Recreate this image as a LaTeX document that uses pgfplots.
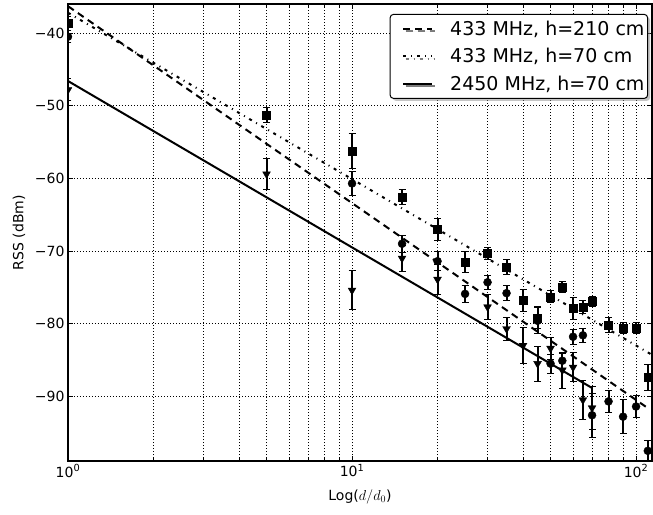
\documentclass[border=0pt]{standalone}
\usepackage{fontspec}
\setmainfont{DejaVu Sans}
\usepackage{pgfplots}
\pgfplotsset{compat=1.18}
\usetikzlibrary{shadows}

\begin{document}
\begin{tikzpicture}
\begin{axis}[
  scale only axis, width=584pt, height=457pt,
  xmode=log, xmin=1, xmax=113.8, ymin=-98.9, ymax=-36,
  xtick={1,10,100},
  xticklabels={10\textsuperscript{0},10\textsuperscript{1},10\textsuperscript{2}},
  ytick={-90,-80,-70,-60,-50,-40},
  yticklabels={−90,−80,−70,−60,−50,−40},
  tick label style={font=\fontsize{14}{16}\selectfont},
  xmajorgrids, xminorgrids, ymajorgrids,
  grid style={black, line width=0.6pt, dash pattern=on 1pt off 2pt},
  axis line style={line width=1.2pt},
  tick style={black, line width=0.8pt},
  major tick length=5pt, minor tick length=3pt, tick align=inside,
  minor y tick num=0,
  clip marker paths=true,
  xlabel={Log($d/d_0$)}, ylabel={RSS (dBm)},
  every axis x label/.style={at={(rel axis cs:0.5,0)}, yshift=-36pt, anchor=center, font=\fontsize{14}{16}\selectfont},
  every axis y label/.style={at={(rel axis cs:0,0.5)}, xshift=-49pt, rotate=90, anchor=center, font=\fontsize{14}{16}\selectfont},
  legend style={at={(1,1)}, anchor=north east, xshift=-4pt, yshift=-10pt,
    font=\fontsize{19}{22}\selectfont, draw=black, line width=1pt,
    rounded corners=3pt, fill=white,
    drop shadow={shadow xshift=2.5pt, shadow yshift=-2.5pt, fill=black!45},
    inner xsep=1pt, inner ysep=4.5pt, row sep=7.5pt},
  legend cell align=left,
  legend image code/.code={\path (0pt,0pt) (55pt,0pt); \draw[#1] (11pt,0pt) -- (40pt,0pt);},
]
% squares
\addplot[forget plot, only marks, black, line width=2pt, mark=square*, mark size=4pt,
  mark options={line width=0.4pt},
  error bars/.cd, y dir=both, y explicit,
  error bar style={line width=2pt},
  error mark options={rotate=90, mark size=3.5pt, line width=1pt}]
coordinates {
(1,-38.7) +- (0,1.0)
(5,-51.3) +- (0,1.0)
(10,-56.2) +- (0,2.4)
(15,-62.6) +- (0,1.0)
(20,-67.0) +- (0,1.5)
(25,-71.5) +- (0,1.5)
(30,-70.3) +- (0,0.8)
(35,-72.2) +- (0,1.0)
(40,-76.8) +- (0,1.5)
(45,-79.2) +- (0,1.5)
(50,-76.3) +- (0,0.8)
(55,-74.95) +- (0,0.7)
(60,-77.9) +- (0,1.5)
(65,-77.7) +- (0,0.9)
(70,-76.9) +- (0,0.7)
(80,-80.2) +- (0,1.0)
(90,-80.6) +- (0,0.8)
(100,-80.6) +- (0,0.8)
(110,-87.4) +- (0,1.8)
};
% circles
\addplot[forget plot, only marks, black, line width=2pt, mark=*, mark size=4pt,
  mark options={line width=0.4pt},
  error bars/.cd, y dir=both, y explicit,
  error bar style={line width=2pt},
  error mark options={rotate=90, mark size=3.5pt, line width=1pt}]
coordinates {
(1,-40.5) +- (0,0.8)
(10,-60.7) +- (0,1.7)
(15,-69.0) +- (0,1.2)
(20,-71.4) +- (0,1.3)
(25,-75.9) +- (0,1.2)
(30,-74.3) +- (0,1.0)
(35,-75.8) +- (0,1.0)
(45,-79.6) +- (0,1.8)
(50,-85.5) +- (0,1.3)
(55,-85.1) +- (0,1.0)
(60,-81.8) +- (0,1.0)
(65,-81.6) +- (0,1.0)
(70,-92.6) +- (0,3.0)
(80,-90.7) +- (0,1.5)
(90,-92.8) +- (0,2.3)
(100,-91.4) +- (0,1.5)
(110,-97.5) +- (0,1.4)
};
% triangles
\addplot[forget plot, only marks, black, line width=2pt, mark=triangle*, mark size=4.5pt,
  mark options={rotate=180, line width=0.4pt},
  error bars/.cd, y dir=both, y explicit,
  error bar style={line width=2pt},
  error mark options={rotate=90, mark size=3.5pt, line width=1pt}]
coordinates {
(1,-47.8) +- (0,1.5)
(5,-59.4) +- (0,2.2)
(10,-75.4) +- (0,2.7)
(15,-71.0) +- (0,1.8)
(20,-73.9) +- (0,2.1)
(30,-77.7) +- (0,1.7)
(35,-80.7) +- (0,1.6)
(40,-83.0) +- (0,2.5)
(45,-85.5) +- (0,2.4)
(50,-83.4) +- (0,1.5)
(55,-86.4) +- (0,2.5)
(60,-86.0) +- (0,2.0)
(65,-90.5) +- (0,2.7)
(70,-91.6) +- (0,3.0)
};
\addplot[black, line width=2pt, dash pattern=on 7pt off 5pt] coordinates {(1,-36.3) (110,-91.62)};
\addlegendentry{433 MHz, h=210 cm}
\addplot[black, line width=2pt, dash pattern=on 3pt off 5pt on 1pt off 5pt] coordinates {(1,-37.2) (113.8,-84.29)};
\addlegendentry{433 MHz, h=70 cm}
\addplot[black, line width=2pt] coordinates {(1,-46.6) (70,-88.85)};
\addlegendentry{2450 MHz, h=70 cm}
\coordinate (ll) at (rel axis cs:0,0);
\coordinate (ur) at (rel axis cs:1,1);
\end{axis}
\pgfresetboundingbox
\path ([xshift=-68pt,yshift=-53pt]ll) rectangle ([xshift=1pt,yshift=4pt]ur);
\end{tikzpicture}
\end{document}
